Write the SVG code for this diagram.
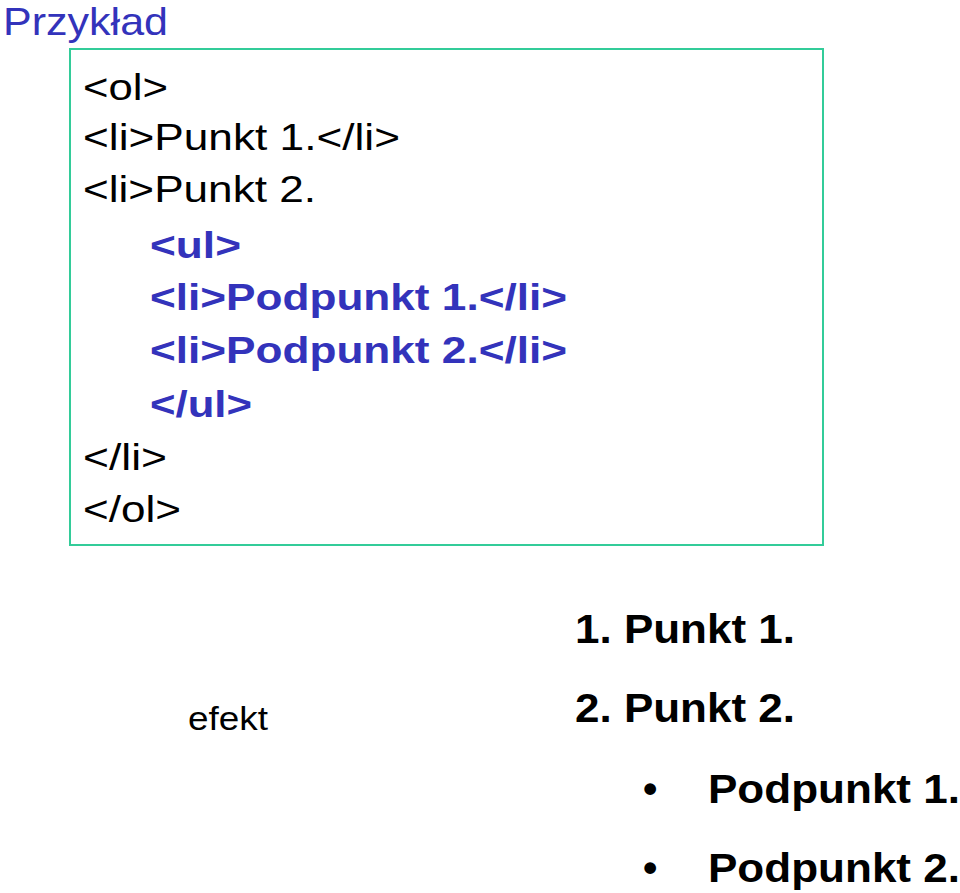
<svg xmlns="http://www.w3.org/2000/svg" width="960" height="893" viewBox="0 0 960 893">
<style>
text{font-family:"Liberation Sans",Arial,sans-serif;}
.c{font-size:37px;fill:#000}
.b{font-size:37px;fill:#3333bb;font-weight:bold}
.r{font-size:41px;font-weight:bold;fill:#000}
</style>
<rect width="960" height="893" fill="#fff"/>
<text x="3" y="35" font-size="39" fill="#3333bb" textLength="165" lengthAdjust="spacingAndGlyphs">Przykład</text>
<rect x="70" y="49" width="753" height="496" fill="none" stroke="#33cc99" stroke-width="2"/>
<text class="c" x="83" y="100" textLength="85" lengthAdjust="spacingAndGlyphs">&lt;ol&gt;</text>
<text class="c" x="83" y="150" textLength="317" lengthAdjust="spacingAndGlyphs">&lt;li&gt;Punkt 1.&lt;/li&gt;</text>
<text class="c" x="83" y="202" textLength="233" lengthAdjust="spacingAndGlyphs">&lt;li&gt;Punkt 2.</text>
<text class="b" x="150" y="258" textLength="91" lengthAdjust="spacingAndGlyphs">&lt;ul&gt;</text>
<text class="b" x="150" y="310" textLength="417" lengthAdjust="spacingAndGlyphs">&lt;li&gt;Podpunkt 1.&lt;/li&gt;</text>
<text class="b" x="150" y="363" textLength="417" lengthAdjust="spacingAndGlyphs">&lt;li&gt;Podpunkt 2.&lt;/li&gt;</text>
<text class="b" x="150" y="417" textLength="102" lengthAdjust="spacingAndGlyphs">&lt;/ul&gt;</text>
<text class="c" x="83" y="470" textLength="84" lengthAdjust="spacingAndGlyphs">&lt;/li&gt;</text>
<text class="c" x="83" y="522" textLength="98" lengthAdjust="spacingAndGlyphs">&lt;/ol&gt;</text>
<text x="188" y="730" font-size="33" fill="#000" textLength="80" lengthAdjust="spacingAndGlyphs">efekt</text>
<text class="r" x="575" y="643" textLength="220" lengthAdjust="spacingAndGlyphs">1. Punkt 1.</text>
<text class="r" x="575" y="722" textLength="220" lengthAdjust="spacingAndGlyphs">2. Punkt 2.</text>
<text class="r" x="643" y="803">•</text>
<text class="r" x="708" y="803" textLength="252" lengthAdjust="spacingAndGlyphs">Podpunkt 1.</text>
<text class="r" x="643" y="882">•</text>
<text class="r" x="708" y="882" textLength="252" lengthAdjust="spacingAndGlyphs">Podpunkt 2.</text>
</svg>
